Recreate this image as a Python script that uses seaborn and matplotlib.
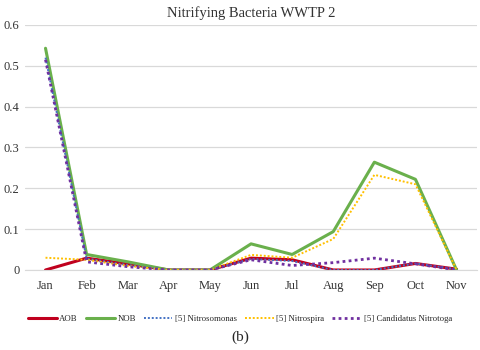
import pandas as pd
import matplotlib
matplotlib.use('Agg')
import matplotlib.pyplot as plt
import seaborn as sns

months = ['Jan', 'Feb', 'Mar', 'Apr', 'May', 'Jun', 'Jul', 'Aug', 'Sep', 'Oct', 'Nov']
aob = [0.0, 0.029, 0.015, 0.0, 0.0, 0.029, 0.025, 0.0, 0.0, 0.016, 0.002]
nob = [0.543, 0.038, 0.02, 0.0, 0.0, 0.064, 0.038, 0.094, 0.264, 0.222, 0.0]
nitrosomonas = [0.52, 0.028, 0.012, 0.0, 0.0, 0.027, 0.022, 0.0, 0.0, 0.016, 0.002]
nitrospira = [0.03, 0.025, 0.01, 0.0, 0.0, 0.037, 0.03, 0.076, 0.233, 0.21, 0.0]
nitrotoga = [0.515, 0.02, 0.008, 0.0, 0.0, 0.025, 0.011, 0.018, 0.029, 0.015, 0.0]

series = {
    'AOB': aob,
    'NOB': nob,
    '[5] Nitrosomonas': nitrosomonas,
    '[5] Nitrospira': nitrospira,
    '[5] Candidatus Nitrotoga': nitrotoga,
}
colors = {
    'AOB': '#C0001E',
    'NOB': '#6AB04C',
    '[5] Nitrosomonas': '#4472C4',
    '[5] Nitrospira': '#FFC000',
    '[5] Candidatus Nitrotoga': '#7030A0',
}
dashes = {
    'AOB': '',
    'NOB': '',
    '[5] Nitrosomonas': (1, 1),
    '[5] Nitrospira': (1, 1),
    '[5] Candidatus Nitrotoga': (1, 1.2),
}
widths = {'AOB': 2.2, 'NOB': 2.2, '[5] Nitrosomonas': 1.4,
          '[5] Nitrospira': 1.4, '[5] Candidatus Nitrotoga': 2.0}

rows = []
for name, vals in series.items():
    for m, v in zip(months, vals):
        rows.append({'month': m, 'value': v, 'series': name})
df = pd.DataFrame(rows)

sns.set_style('white')
plt.rcParams['font.family'] = ['Liberation Serif', 'DejaVu Serif']

fig = plt.figure(figsize=(4.8, 3.5), dpi=100)
ax = fig.add_axes([0.052, 0.2286, 0.942, 0.7])

for name in series:
    sub = df[df['series'] == name]
    sns.lineplot(data=sub, x='month', y='value', ax=ax, color=colors[name],
                 linewidth=widths[name], label=name, legend=False)
    if dashes[name]:
        ax.lines[-1].set_dashes(dashes[name])

ax.set_xlim(-0.5, len(months) - 0.5)
ax.set_ylim(0, 0.6)
ax.set_yticks([0, 0.1, 0.2, 0.3, 0.4, 0.5, 0.6])
ax.set_yticklabels(['0', '0.1', '0.2', '0.3', '0.4', '0.5', '0.6'])
ax.yaxis.grid(True, color='#d9d9d9', linewidth=0.9)
ax.set_axisbelow(True)
for s in ['top', 'right', 'left']:
    ax.spines[s].set_visible(False)
ax.spines['bottom'].set_color('#d9d9d9')
ax.tick_params(axis='both', length=0, labelsize=9, colors='#333333')
ax.tick_params(axis='x', pad=7)
ax.tick_params(axis='y', pad=4)
ax.set_xlabel('')
ax.set_ylabel('')
ax.set_title('Nitrifying Bacteria WWTP 2', fontsize=10.5, color='#333333', pad=6)

handles, labels = ax.get_legend_handles_labels()
fig.legend(handles, labels, loc='center', bbox_to_anchor=(0.5, 0.09), ncol=5,
           frameon=False, fontsize=6.3, handlelength=3.3, handletextpad=0.3,
           columnspacing=0.9)
fig.text(0.5, 0.035, '(b)', ha='center', va='center', fontsize=11)

fig.savefig('out.png', dpi=100)
